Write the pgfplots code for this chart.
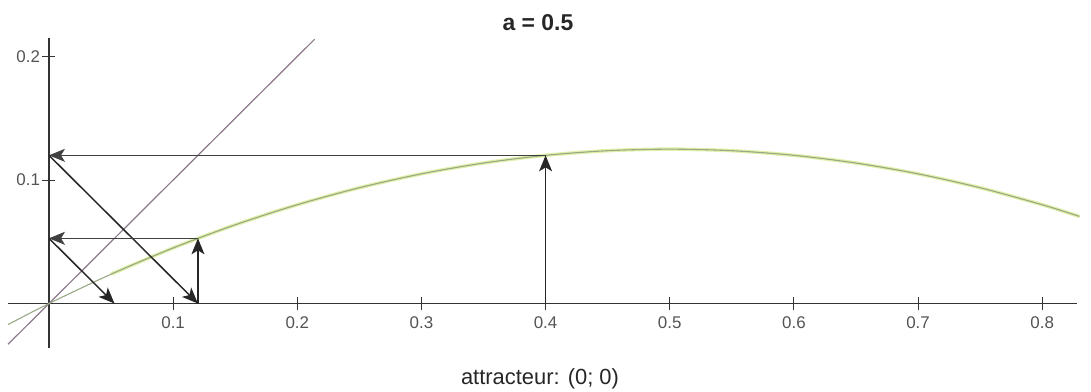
\documentclass[border=0pt]{standalone}
\usepackage{fontspec}
\setmainfont{Liberation Sans}
\usepackage{pgfplots}
\pgfplotsset{compat=1.18}
\usetikzlibrary{arrows.meta}
\definecolor{axgray}{rgb}{0.2,0.2,0.2}
\definecolor{idline}{rgb}{0.55,0.47,0.55}
\definecolor{curvegray}{rgb}{0.6,0.66,0.52}
\definecolor{curvehalo}{rgb}{0.88,0.94,0.66}
\definecolor{ticklab}{rgb}{0.33,0.33,0.33}
\begin{document}
\begin{tikzpicture}[x=1bp,y=1bp]
\useasboundingbox (0,0) rectangle (1091,391);
\begin{axis}[
  at={(8bp,43bp)}, anchor=south west,
  scale only axis, width=1069bp, height=310bp,
  xmin=-0.033, xmax=0.828, ymin=-0.036, ymax=0.215,
  axis lines=middle,
  axis line style={-, axgray, line width=1.3bp},
  xtick={0.1,0.2,0.3,0.4,0.5,0.6,0.7,0.8},
  ytick={0.1,0.2},
  tick align=center,
  major tick length=13bp,
  tick style={axgray, line width=1bp},
  /pgf/number format/assume math mode=true,
  /pgf/number format/fixed,
  /pgf/number format/precision=1,
  xticklabel style={font=\fontsize{17}{19}\selectfont, text=ticklab, yshift=-3bp},
  yticklabel style={font=\fontsize{17}{19}\selectfont, text=ticklab, xshift=1bp},
  clip=false,
]
% y = x line
\addplot[idline, line width=1.2bp] coordinates {(-0.033,-0.033) (0.214,0.214)};
% curve halo
\addplot[curvehalo, line width=3.5bp, smooth] coordinates {
(0.05,0.02375) (0.1,0.045) (0.15,0.06375) (0.2,0.08) (0.25,0.09375) (0.3,0.105)
(0.35,0.11375) (0.4,0.12) (0.45,0.12375) (0.5,0.125) (0.55,0.12375) (0.6,0.12)
(0.65,0.11375) (0.7,0.105) (0.75,0.09375) (0.8,0.08) (0.83,0.07055)};
% curve
\addplot[curvegray, line width=1.1bp, smooth] coordinates {
(-0.033,-0.01704) (0,0) (0.05,0.02375) (0.1,0.045) (0.15,0.06375) (0.2,0.08) (0.25,0.09375) (0.3,0.105)
(0.35,0.11375) (0.4,0.12) (0.45,0.12375) (0.5,0.125) (0.55,0.12375) (0.6,0.12)
(0.65,0.11375) (0.7,0.105) (0.75,0.09375) (0.8,0.08) (0.83,0.07055)};
% cobweb arrows
\addplot[black!85, line width=1.2bp, -{Stealth[length=16bp,width=13bp,inset=4bp]}] coordinates {(0.4,0) (0.4,0.12)};
\addplot[black!75, line width=1bp, -{Stealth[length=16bp,width=13bp,inset=4bp]}] coordinates {(0.4,0.12) (0,0.12)};
\addplot[black!85, line width=1.5bp, -{Stealth[length=16bp,width=13bp,inset=4bp]}] coordinates {(0,0.12) (0.12,0)};
\addplot[black!85, line width=1.2bp, -{Stealth[length=16bp,width=13bp,inset=4bp]}] coordinates {(0.12,0) (0.12,0.0528)};
\addplot[black!75, line width=1bp, -{Stealth[length=16bp,width=13bp,inset=4bp]}] coordinates {(0.12,0.0528) (0,0.0528)};
\addplot[black!85, line width=1.5bp, -{Stealth[length=16bp,width=13bp,inset=4bp]}] coordinates {(0,0.0528) (0.0528,0)};
\end{axis}
\node[anchor=base, font=\bfseries\fontsize{23}{26}\selectfont, text=black!85] at (538,361) {a = 0.5};
\node[anchor=base, font=\fontsize{22}{26}\selectfont, text=black!85] at (540,7) {attracteur: (0; 0)};
\end{tikzpicture}
\end{document}
